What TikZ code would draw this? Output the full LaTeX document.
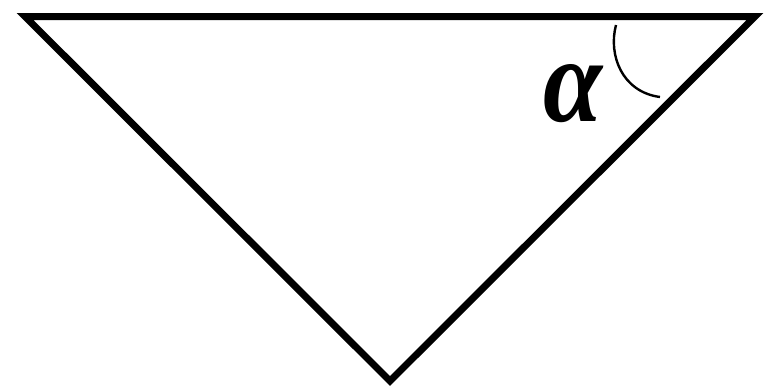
\documentclass[tikz,border=0pt]{standalone}
\usepackage{fontspec}
\newfontfamily\alphafont{Liberation Serif}
\begin{document}
\begin{tikzpicture}[x=1pt,y=-1pt,
  tri/.style={draw=black,line width=7pt,line join=miter},
  anglearc/.style={draw=black,line width=2.4pt}]
\useasboundingbox (0,0) rectangle (765,389);
\coordinate (A) at (25,16.5);
\coordinate (B) at (755,16.5);
\coordinate (C) at (390,381);
\draw[tri] (A) -- (B) -- (C) -- cycle;
\node[inner sep=0pt] (alpha) at (572.5,93.5) {\resizebox{59pt}{57pt}{\alphafont\bfseries\itshape α}};
\coordinate (s) at (616,25);
\coordinate (e) at (660,97);
\draw[anglearc] (s) .. controls (608,55) and (622,92) .. (e);
\end{tikzpicture}
\end{document}
